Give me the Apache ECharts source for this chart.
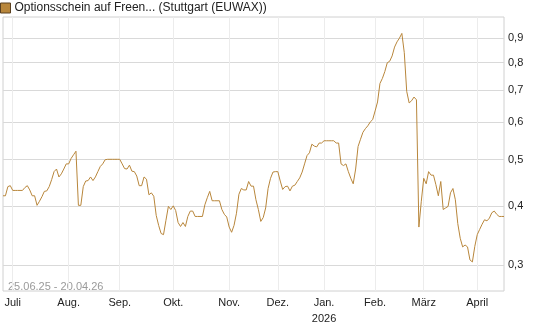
<!DOCTYPE html>
<html>
<head>
<meta charset="utf-8">
<script src="https://cdn.jsdelivr.net/npm/echarts@6/dist/echarts.min.js"></script>
<style>
  html, body { margin: 0; padding: 0; background: #fff; }
  #chart { width: 545px; height: 327px; }
</style>
</head>
<body>
<div id="chart"></div>
<script>
// trading days 25.06.25 - 20.04.26 (weekdays without exchange holidays)
const startDate = '2025-06-25'
const endDate = '2026-04-20'
const holidays = ['2025-12-24', '2025-12-25', '2025-12-26', '2025-12-31', '2026-01-01', '2026-04-03', '2026-04-06']
const monthNames = ['Jan.', 'Feb.', 'März', 'April', 'Mai', 'Juni', 'Juli', 'Aug.', 'Sep.', 'Okt.', 'Nov.', 'Dez.']
const yTicks = [0.3, 0.4, 0.5, 0.6, 0.7, 0.8, 0.9]
const yMin = 0.265
const yMax = 0.997
const seriesName = 'Optionsschein auf Freen... (Stuttgart (EUWAX))'
const prices = [
  0.420, 0.420, 0.439, 0.441, 0.431, 0.431, 0.431, 0.431, 0.431, 0.437,
  0.441, 0.432, 0.420, 0.420, 0.401, 0.409, 0.418, 0.429, 0.430, 0.439,
  0.454, 0.472, 0.478, 0.460, 0.467, 0.478, 0.490, 0.490, 0.503, 0.512,
  0.521, 0.401, 0.401, 0.439, 0.451, 0.452, 0.460, 0.452, 0.460, 0.472,
  0.484, 0.490, 0.500, 0.501, 0.501, 0.501, 0.501, 0.501, 0.501, 0.490,
  0.479, 0.478, 0.487, 0.473, 0.472, 0.462, 0.441, 0.441, 0.460, 0.455,
  0.422, 0.426, 0.419, 0.382, 0.364, 0.350, 0.348, 0.373, 0.399, 0.393,
  0.400, 0.391, 0.369, 0.362, 0.369, 0.362, 0.380, 0.390, 0.390, 0.380,
  0.380, 0.380, 0.380, 0.402, 0.416, 0.429, 0.410, 0.410, 0.410, 0.410,
  0.393, 0.384, 0.379, 0.361, 0.352, 0.364, 0.386, 0.423, 0.435, 0.432,
  0.432, 0.450, 0.440, 0.440, 0.412, 0.393, 0.371, 0.378, 0.396, 0.435,
  0.457, 0.471, 0.472, 0.472, 0.451, 0.433, 0.439, 0.440, 0.430, 0.440,
  0.442, 0.450, 0.458, 0.471, 0.490, 0.510, 0.517, 0.539, 0.534, 0.532,
  0.542, 0.542, 0.548, 0.548, 0.548, 0.548, 0.548, 0.542, 0.542, 0.490,
  0.486, 0.490, 0.472, 0.457, 0.445, 0.478, 0.533, 0.552, 0.571, 0.581,
  0.589, 0.600, 0.607, 0.633, 0.661, 0.723, 0.741, 0.766, 0.799, 0.805,
  0.826, 0.862, 0.884, 0.900, 0.921, 0.839, 0.696, 0.658, 0.665, 0.677,
  0.668, 0.361, 0.409, 0.457, 0.445, 0.472, 0.464, 0.464, 0.443, 0.420,
  0.450, 0.393, 0.396, 0.399, 0.426, 0.435, 0.412, 0.367, 0.342, 0.328,
  0.331, 0.328, 0.308, 0.305, 0.329, 0.348, 0.357, 0.366, 0.374, 0.372,
  0.377, 0.387, 0.390, 0.384, 0.380, 0.380, 0.380
]

function tradingDays(from, to) {
  let days = []
  let d = new Date(from + 'T00:00:00Z')
  let end = new Date(to + 'T00:00:00Z')
  while (d <= end) {
    let iso = d.toISOString().slice(0, 10)
    let wd = d.getUTCDay()
    if (wd !== 0 && wd !== 6 && holidays.indexOf(iso) < 0) days.push(iso)
    d.setUTCDate(d.getUTCDate() + 1)
  }
  return days
}

const dates = tradingDays(startDate, endDate)
const monthOf = (i) => Number(dates[i].slice(5, 7))
const isMonthStart = (i) => i > 0 && monthOf(i) !== monthOf(i - 1)

let myChart = echarts.init(document.getElementById('chart'))
myChart.setOption({
  animation: false,
  textStyle: { fontFamily: 'Liberation Sans, Arial, sans-serif' },
  legend: {
    left: 0,
    top: 2,
    padding: 0,
    itemWidth: 10,
    itemHeight: 10,
    itemGap: 4,
    icon: 'rect',
    itemStyle: { color: '#b8863b', borderColor: '#5a4020', borderWidth: 1 },
    textStyle: { fontSize: 12, color: '#222', padding: [0, 0, 0, -1] },
    data: [seriesName]
  },
  grid: {
    left: 3,
    right: 41,
    top: 17,
    bottom: 34,
    show: true,
    borderColor: '#d0d0d0',
    borderWidth: 1
  },
  xAxis: {
    type: 'category',
    boundaryGap: false,
    data: dates,
    axisLine: { show: false },
    axisTick: { show: false },
    axisLabel: {
      interval: (i) => isMonthStart(i),
      margin: 4,
      fontSize: 11,
      color: '#222',
      lineHeight: 16,
      formatter: (v) => {
        let m = Number(v.slice(5, 7))
        let label = monthNames[m - 1]
        return m === 1 ? label + '\n' + v.slice(0, 4) : label
      }
    },
    splitLine: {
      show: true,
      interval: (i) => isMonthStart(i),
      lineStyle: { color: '#ececec', width: 1 }
    }
  },
  yAxis: {
    type: 'value',
    position: 'right',
    min: Math.log10(yMin),
    max: Math.log10(yMax),
    axisLine: { show: false },
    axisTick: { show: false, customValues: yTicks.map(Math.log10) },
    axisLabel: {
      customValues: yTicks.map(Math.log10),
      margin: 4,
      fontSize: 11,
      color: '#222',
      formatter: (v) => Math.pow(10, v).toFixed(1).replace('.', ',')
    },
    splitLine: { show: true, lineStyle: { color: '#d9d9d9', width: 1 } }
  },
  graphic: [{
    type: 'text',
    left: 8,
    top: 281,
    style: { text: '25.06.25 - 20.04.26', fill: '#9a9a9a', fontSize: 11, fontFamily: 'Liberation Sans, Arial, sans-serif' }
  }],
  series: [{
    name: seriesName,
    type: 'line',
    showSymbol: false,
    color: '#b8863b',
    lineStyle: { color: '#b8863b', width: 1 },
    data: prices.map(Math.log10)
  }]
})
</script>
</body>
</html>
